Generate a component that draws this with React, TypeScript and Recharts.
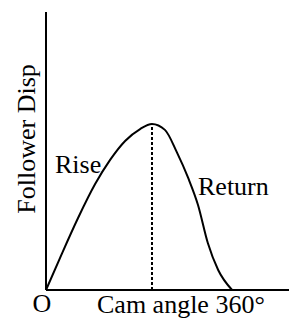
import { Line, LineChart, ReferenceLine, XAxis, YAxis } from "recharts";

// cam angle (deg) and follower displacement (% of axis height)
const angles = [0, 27, 62, 95, 124, 153, 182, 205, 230, 253, 275, 294, 313, 333, 360];
const disp = [0, 11.5, 25.9, 38.1, 46.8, 53.6, 57.9, 59.7, 57.6, 49.6, 40.3, 30.6, 16.9, 7.2, 0];
const peakAngle = 205;
const peakDisp = 59.7;

const labels = {
  y: "Follower Disp",
  x: "Cam angle 360°",
  origin: "O",
  rise: "Rise",
  ret: "Return",
};

const data = angles.map((a, i) => ({ angle: a, disp: disp[i] }));

const font = "'Liberation Serif', 'Times New Roman', serif";

export default function App() {
  return (
    <div style={{ position: "absolute", left: 0, top: 0, width: 289, height: 320, background: "#fff" }}>
      <LineChart width={289} height={320} data={data} margin={{ top: 12, right: 0, bottom: 0, left: 0 }}>
        <XAxis
          type="number"
          dataKey="angle"
          domain={[0, 470]}
          tick={false}
          tickLine={false}
          height={30}
          axisLine={{ stroke: "#000", strokeWidth: 2 }}
        />
        <YAxis
          type="number"
          domain={[0, 100]}
          tick={false}
          tickLine={false}
          width={46}
          axisLine={{ stroke: "#000", strokeWidth: 2 }}
        />
        <ReferenceLine
          segment={[
            { x: peakAngle, y: 0 },
            { x: peakAngle, y: peakDisp },
          ]}
          stroke="#000"
          strokeWidth={2}
          strokeDasharray="3 2"
        />
        <Line
          dataKey="disp"
          type="monotone"
          stroke="#000"
          strokeWidth={2}
          dot={false}
          isAnimationActive={false}
        />
      </LineChart>
      <svg
        width={289}
        height={320}
        style={{ position: "absolute", left: 0, top: 0, pointerEvents: "none" }}
        fontFamily={font}
        fontSize={26}
        fill="#000"
      >
        <text x={35} y={139} textAnchor="middle" transform="rotate(-90, 35, 139)">
          {labels.y}
        </text>
        <text x={55} y={173}>{labels.rise}</text>
        <text x={198} y={195}>{labels.ret}</text>
        <text x={42} y={312} textAnchor="middle">{labels.origin}</text>
        <text x={97} y={313}>{labels.x}</text>
      </svg>
    </div>
  );
}
